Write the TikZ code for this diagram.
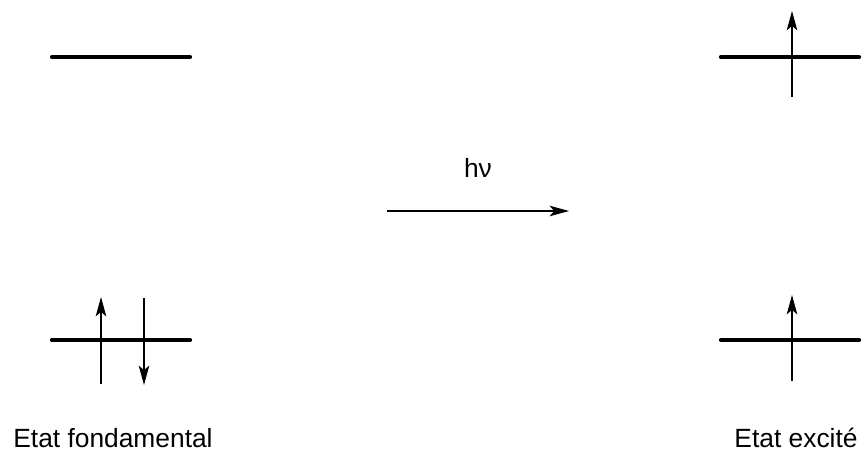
\documentclass[tikz,border=0pt]{standalone}
\usepackage{fontspec}
\setmainfont{Liberation Sans}
\usetikzlibrary{arrows.meta}

\tikzset{
    level/.style={line width=2.4pt, line cap=round},
    spin/.style={line width=0.7pt, -{Stealth[length=11pt,width=6pt,inset=2.5pt]}},
    label/.style={anchor=base, inner sep=0pt, font=\fontsize{15}{18}\selectfont}
}

\begin{document}
\begin{tikzpicture}[x=0.02cm, y=-0.02cm]
        \useasboundingbox (0, 0) rectangle (862, 452);
        % orbital levels
        \coordinate (gtop) at (121, 57);
        \coordinate (gbot) at (121, 340);
        \coordinate (etop) at (790, 57);
        \coordinate (ebot) at (790, 340);
        \foreach \lv in {gtop, gbot, etop, ebot}
            \draw[level] ([xshift=-1.38cm]\lv) -- ([xshift=1.38cm]\lv);
        % electrons, ground state
        \coordinate (up1a) at (101, 384);
        \coordinate (up1b) at (101, 297);
        \coordinate (dn1a) at (144, 298);
        \coordinate (dn1b) at (144, 385);
        \draw[spin] (up1a) -- (up1b);
        \draw[spin] (dn1a) -- (dn1b);
        % electrons, excited state
        \coordinate (up2a) at (792, 97);
        \coordinate (up2b) at (792, 11);
        \coordinate (up3a) at (792, 381);
        \coordinate (up3b) at (792, 295);
        \draw[spin] (up2a) -- (up2b);
        \draw[spin] (up3a) -- (up3b);
        % excitation
        \coordinate (hvstart) at (387, 211);
        \coordinate (hvend) at (569, 211);
        \draw[spin] (hvstart) -- (hvend);
        \node[label] (hv) at (478, 178) {hν};
        \node[label] (fond) at (113, 447) {Etat fondamental};
        \node[label] (exc) at (796, 447) {Etat excité};
    \end{tikzpicture}
\end{document}
